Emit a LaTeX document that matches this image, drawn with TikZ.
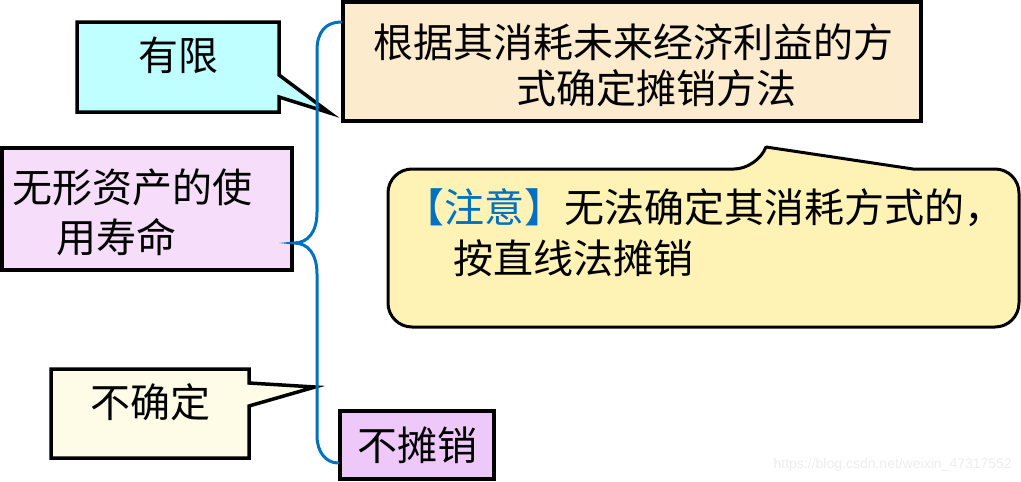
\documentclass[tikz,border=0pt]{standalone}
\usepackage{fontspec}
\newfontfamily\cjk{Noto Sans CJK SC}
\newfontfamily\wmfont{Liberation Sans}
\definecolor{cyanfill}{HTML}{BFFFFF}
\definecolor{beigefill}{HTML}{FCEBCD}
\definecolor{lilacfill}{HTML}{F6DDF9}
\definecolor{creamfill}{HTML}{FEFCE7}
\definecolor{purplefill}{HTML}{EFC8FA}
\definecolor{notefill}{HTML}{FFF2B5}
\definecolor{braceblue}{HTML}{0070C0}
\begin{document}
\begin{tikzpicture}[x=1pt,y=-1pt,
  box/.style={draw=black,line width=4pt,inner sep=0pt},
  callout/.style={draw=black,line width=3.5pt,line join=miter},
  txt/.style={font=\cjk\fontsize{40}{46}\selectfont,inner sep=0pt,text=black},
  brace/.style={draw=braceblue,line width=3pt,line cap=round}]
\useasboundingbox (0,0) rectangle (1021,482);
% boxes
\node[box,fill=beigefill,minimum width=578pt,minimum height=119pt] (mth) at (632,61.5) {};
\node[box,fill=lilacfill,minimum width=290pt,minimum height=122pt] (life) at (147,209) {};
\node[box,fill=purplefill,minimum width=154pt,minimum height=68pt] (nomort) at (417,445) {};
% callouts
\draw[callout,fill=cyanfill] (77,22) -- (279,22) -- (279,75) -- (330,113) -- (279,97) -- (279,112) -- (77,112) -- cycle;
\coordinate (tipA) at (330,113);
\draw[callout,fill=creamfill] (51,369) -- (249,369) -- (249,383) -- (315,387) -- (249,406) -- (249,458) -- (51,458) -- cycle;
\coordinate (tipB) at (315,387);
\draw[draw=black,line width=3pt,fill=notefill] (388,250) [rounded corners=24pt] -- (388,169) -- (758,169) [sharp corners] -- (766,147) -- (913,169) [rounded corners=24pt] -- (1019,169) -- (1019,327) -- (388,327) -- cycle;
% brace
\coordinate (tip) at (life.east |- 0,243);
\coordinate (bt) at (mth.west |- 0,22);
\coordinate (bb) at (nomort.west |- 0,463);
\draw[brace] (bt) .. controls (326,22) and (317,32) .. (317,50) -- (317,212)
  .. controls (317,232) and (308,243) .. (tip)
  .. controls (308,243) and (317,254) .. (317,274) -- (317,436)
  .. controls (317,452) and (326,463) .. (bb);
% texts
\node[txt] (t1) at (178,55) {有限};
\node[txt] (t2) at (633,42) {根据其消耗未来经济利益的方};
\node[txt] (t3) at (656,88) {式确定摊销方法};
\node[txt,anchor=west] (t4) at (12,187) {无形资产的使};
\node[txt,anchor=west] (t5) at (56,237) {用寿命};
\node[txt] (t6) at (150,402) {不确定};
\node[txt] (t7) at (417,445) {不摊销};
\node[txt,anchor=west] (t8) at (404,208) {\textcolor{braceblue}{【注意】}无法确定其消耗方式的，};
\node[txt,anchor=west] (t9) at (453,258) {按直线法摊销};
\node[font=\wmfont\fontsize{14}{16}\selectfont,text=black!7,inner sep=0pt,anchor=east] (wm) at (1012,465) {https://blog.csdn.net/weixin\_47317552};
\end{tikzpicture}
\end{document}
